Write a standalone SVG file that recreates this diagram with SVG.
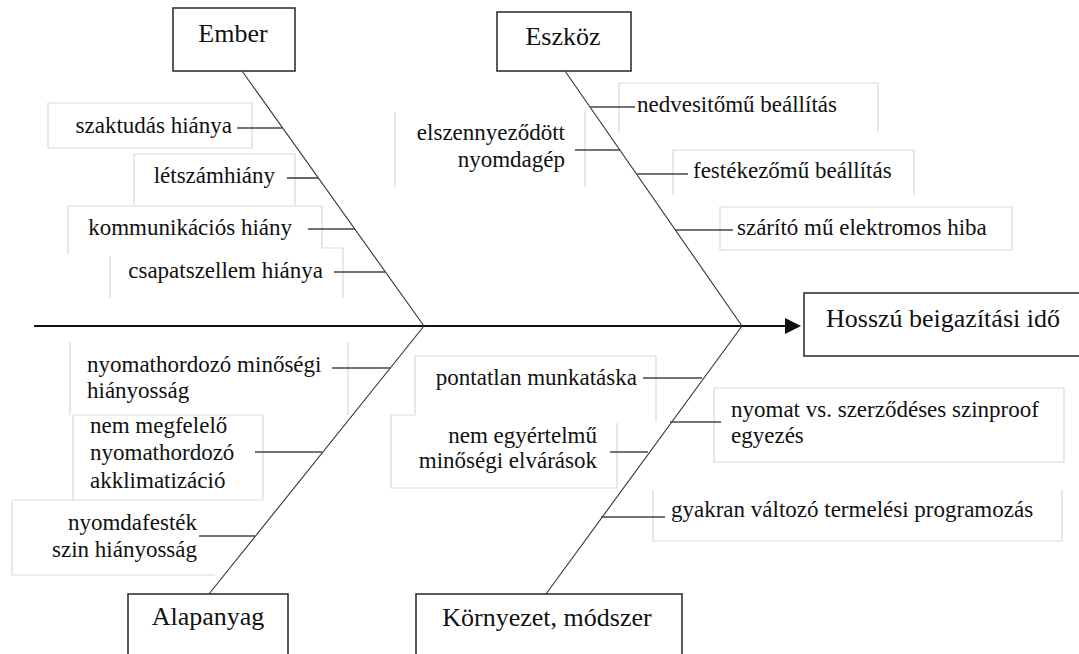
<svg xmlns="http://www.w3.org/2000/svg" width="1079" height="654" viewBox="0 0 1079 654">
<style>
.main{fill:#fff;stroke:#333;stroke-width:1.6}
.mt{font-family:"Liberation Serif","Times New Roman",serif;font-size:26px;fill:#111}
.t{font-family:"Liberation Serif","Times New Roman",serif;font-size:23px;fill:#111}
.e{text-anchor:end}
.m{text-anchor:middle}
.lb{fill:none;stroke:#d9d9d9;stroke-width:1.2}
.bone{fill:none;stroke:#333;stroke-width:1.1}
.sub{fill:none;stroke:#444;stroke-width:1.6}
</style>
<rect width="1079" height="654" fill="#fff"/>
<g id="label-boxes">
<path class="lb" d="M48,103H252V148H48Z"/>
<path class="lb" d="M134,205V154H295V205"/>
<path class="lb" d="M68,255V206H322V248H343"/>
<path class="lb" d="M110,256V298M343,248V298"/>
<path class="lb" d="M619,133V83H878V133"/>
<path class="lb" d="M395,112V187M585,112V187"/>
<path class="lb" d="M673,195V150H914V195"/>
<path class="lb" d="M720,207H1012V250H720Z"/>
<path class="lb" d="M70,342V415M348,342V415"/>
<path class="lb" d="M73,500V415H263V500M12,500H263"/>
<path class="lb" d="M12,501V575H215"/>
<path class="lb" d="M391,415H415V356H656V422"/>
<path class="lb" d="M391,415V488H617V423"/>
<path class="lb" d="M714,388H1064V462H714Z"/>
<path class="lb" d="M653,490V541H1062V490"/>
</g>
<g id="connectors">
<line x1="34" y1="326" x2="787" y2="326" stroke="#111" stroke-width="2.2"/>
<polygon points="785,318 801,326 785,334" fill="#111"/>
<line class="bone" x1="242" y1="71" x2="424" y2="326"/>
<line class="bone" x1="565" y1="71" x2="742" y2="326"/>
<line class="bone" x1="209" y1="594" x2="424" y2="326"/>
<line class="bone" x1="546" y1="594" x2="742" y2="326"/>
<line class="sub" x1="237" y1="128" x2="282" y2="128"/>
<line class="sub" x1="287" y1="178" x2="318" y2="178"/>
<line class="sub" x1="308" y1="229" x2="355" y2="229"/>
<line class="sub" x1="334" y1="272" x2="385" y2="272"/>
<line class="sub" x1="590" y1="107" x2="635" y2="107"/>
<line class="sub" x1="575" y1="150" x2="620" y2="150"/>
<line class="sub" x1="637" y1="174" x2="688" y2="174"/>
<line class="sub" x1="675" y1="230" x2="733" y2="230"/>
<line class="sub" x1="332" y1="368" x2="390" y2="368"/>
<line class="sub" x1="255" y1="452" x2="322" y2="452"/>
<line class="sub" x1="199" y1="536" x2="255" y2="536"/>
<line class="sub" x1="643" y1="378" x2="702" y2="378"/>
<line class="sub" x1="610" y1="452" x2="648" y2="452"/>
<line class="sub" x1="670" y1="422" x2="721" y2="422"/>
<line class="sub" x1="601" y1="517" x2="665" y2="517"/>
</g>
<g id="ember"><rect class="main" x="173" y="8" width="122" height="63"/><text class="mt m" x="233" y="42">Ember</text></g>
<g id="eszkoz"><rect class="main" x="497" y="12" width="134" height="59"/><text class="mt m" x="563" y="45">Eszköz</text></g>
<g id="alapanyag"><rect class="main" x="128" y="594" width="160" height="70"/><text class="mt m" x="208" y="625">Alapanyag</text></g>
<g id="kornyezet"><rect class="main" x="416" y="594" width="266" height="70"/><text class="mt m" x="547" y="626">Környezet, módszer</text></g>
<g id="hatas"><rect class="main" x="804" y="293" width="290" height="63"/><text class="mt" x="826" y="327">Hosszú beigazítási idő</text></g>
<g id="szaktudas"><text class="t e" x="232" y="133">szaktudás hiánya</text></g>
<g id="letszam"><text class="t e" x="275" y="183">létszámhiány</text></g>
<g id="kommunikacio"><text class="t e" x="292" y="235">kommunikációs hiány</text></g>
<g id="csapatszellem"><text class="t e" x="323" y="278">csapatszellem hiánya</text></g>
<g id="nedvesito"><text class="t" x="637" y="112">nedvesitőmű beállítás</text></g>
<g id="elszennyezodott"><text class="t e" x="565" y="140">elszennyeződött</text><text class="t e" x="565" y="167">nyomdagép</text></g>
<g id="festekezo"><text class="t" x="693" y="178">festékezőmű beállítás</text></g>
<g id="szarito"><text class="t" x="737" y="235">szárító mű elektromos hiba</text></g>
<g id="nyomathordozo"><text class="t" x="87" y="372">nyomathordozó minőségi</text><text class="t" x="87" y="398">hiányosság</text></g>
<g id="akklimatizacio"><text class="t" x="90" y="433">nem megfelelő</text><text class="t" x="90" y="460">nyomathordozó</text><text class="t" x="90" y="488">akklimatizáció</text></g>
<g id="nyomdafestek"><text class="t e" x="197" y="530">nyomdafesték</text><text class="t e" x="197" y="557">szin hiányosság</text></g>
<g id="pontatlan"><text class="t e" x="637" y="385">pontatlan munkatáska</text></g>
<g id="elvarasok"><text class="t e" x="597" y="443">nem egyértelmű</text><text class="t e" x="597" y="468">minőségi elvárások</text></g>
<g id="szinproof"><text class="t" x="731" y="417">nyomat vs. szerződéses szinproof</text><text class="t" x="731" y="443">egyezés</text></g>
<g id="programozas"><text class="t" x="671" y="517">gyakran változó termelési programozás</text></g>
</svg>
